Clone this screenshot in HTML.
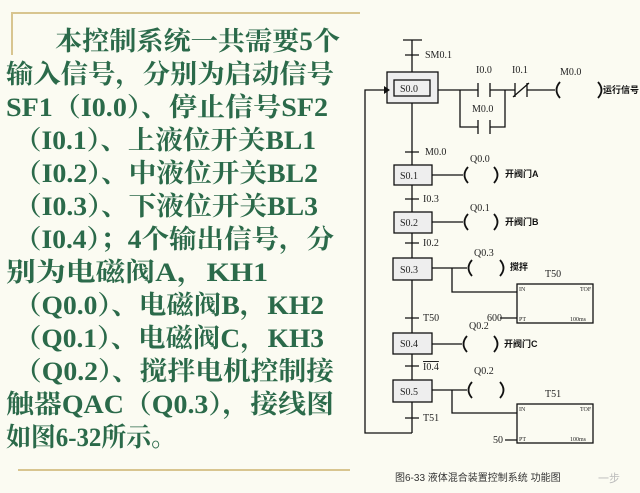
<!DOCTYPE html>
<html><head><meta charset="utf-8"><style>
html,body{margin:0;padding:0;background:#fbfbef;}
svg{display:block}
.t{font-family:"Liberation Serif","Noto Serif CJK SC",serif;font-weight:bold;font-size:26px;fill:#2b6a4a}
.s{font-family:"Liberation Serif","Noto Serif CJK SC",serif;font-size:10px;fill:#222}
.c{font-family:"Liberation Sans","Noto Sans CJK SC",sans-serif;font-size:9px;font-weight:bold;fill:#111}
.k{font-family:"Liberation Serif",serif;font-size:6px;fill:#222}
</style></head><body>
<svg width="640" height="493" viewBox="0 0 640 493" xmlns="http://www.w3.org/2000/svg">
<rect width="640" height="493" fill="#fbfbf2"/>
<path d="M12 55 V13 H360" stroke="#d8c590" stroke-width="2" fill="none"/>
<line x1="18" y1="470" x2="350" y2="470" stroke="#d8c590" stroke-width="2"/>
<g class="t">
<text x="55" y="50" textLength="285" lengthAdjust="spacingAndGlyphs">本控制系统一共需要5个</text>
<text x="6" y="83" textLength="328" lengthAdjust="spacingAndGlyphs">输入信号，分别为启动信号</text>
<text x="6" y="116" textLength="322" lengthAdjust="spacingAndGlyphs">SF1（I0.0）、停止信号SF2</text>
<text x="14" y="149" textLength="302" lengthAdjust="spacingAndGlyphs">（I0.1）、上液位开关BL1</text>
<text x="14" y="182" textLength="304" lengthAdjust="spacingAndGlyphs">（I0.2）、中液位开关BL2</text>
<text x="14" y="215" textLength="304" lengthAdjust="spacingAndGlyphs">（I0.3）、下液位开关BL3</text>
<text x="14" y="248" textLength="320" lengthAdjust="spacingAndGlyphs">（I0.4）；4个输出信号，分</text>
<text x="6" y="281" textLength="262" lengthAdjust="spacingAndGlyphs">别为电磁阀A，KH1</text>
<text x="14" y="314" textLength="310" lengthAdjust="spacingAndGlyphs">（Q0.0）、电磁阀B，KH2</text>
<text x="14" y="347" textLength="310" lengthAdjust="spacingAndGlyphs">（Q0.1）、电磁阀C，KH3</text>
<text x="14" y="380" textLength="320" lengthAdjust="spacingAndGlyphs">（Q0.2）、搅拌电机控制接</text>
<text x="6" y="413" textLength="328" lengthAdjust="spacingAndGlyphs">触器QAC（Q0.3），接线图</text>
<text x="6" y="446" textLength="170" lengthAdjust="spacingAndGlyphs">如图6-32所示。</text>
</g>
<g stroke="#111" stroke-width="1.3" fill="none">
<line x1="412" y1="40" x2="412" y2="433"/>
<line x1="403" y1="40" x2="422" y2="40"/>
<path d="M412 433 H365 V90 H384"/>
<rect x="387" y="72" width="51" height="31" fill="#eee"/>
<rect x="394" y="80" width="36" height="16"/>
<path d="M438 90 H478 M490 90 H515 M527 90 H555"/>
<path d="M478 83 V97 M490 83 V97 M515 83 V97 M527 83 V97 M513 97 L529 83"/>
<path d="M460 90 V127 H478 M490 127 H505 V90 M478 120 V134 M490 120 V134"/>
<path d="M405 55 H419 M405 152 H419 M405 199 H419 M405 243 H419 M405 318 H419 M405 366 H419 M405 418 H419"/>
<rect x="394" y="165" width="38" height="20" fill="#eee"/>
<rect x="394" y="212" width="38" height="21" fill="#eee"/>
<rect x="393" y="258" width="39" height="22" fill="#eee"/>
<rect x="393" y="333" width="39" height="21" fill="#eee"/>
<rect x="393" y="380" width="39" height="22" fill="#eee"/>
<path d="M432 175 H463 M432 222 H463 M432 268 H467 M432 344 H462 M432 390 H467"/>
<path d="M452 268 V292 H517 M452 390 V413 H517 M500 318 H517 M505 440 H517"/>
<rect x="517" y="284" width="76" height="39"/>
<rect x="517" y="404" width="76" height="39"/>
</g>
<g fill="none" stroke="#111" stroke-width="1.8">
<path d="M560 82 Q553 90 560 98 M598 82 Q605 90 598 98"/>
<path d="M468 167 Q461 175 468 183 M494 167 Q501 175 494 183"/>
<path d="M468 214 Q461 222 468 230 M494 214 Q501 222 494 230"/>
<path d="M472 260 Q465 268 472 276 M500 260 Q507 268 500 276"/>
<path d="M467 336 Q460 344 467 352 M494 336 Q501 344 494 352"/>
<path d="M472 382 Q465 390 472 398 M500 382 Q507 390 500 398"/>
</g>
<polygon points="384,86 390,90 384,94" fill="#111"/>
<g class="s">
<text x="425" y="58">SM0.1</text>
<text x="400" y="92">S0.0</text>
<text x="476" y="73">I0.0</text>
<text x="512" y="73">I0.1</text>
<text x="560" y="75">M0.0</text>
<text x="472" y="112">M0.0</text>
<text x="425" y="155">M0.0</text>
<text x="400" y="179">S0.1</text>
<text x="470" y="162">Q0.0</text>
<text x="423" y="202">I0.3</text>
<text x="400" y="226">S0.2</text>
<text x="470" y="211">Q0.1</text>
<text x="423" y="246">I0.2</text>
<text x="474" y="256">Q0.3</text>
<text x="400" y="273">S0.3</text>
<text x="545" y="277">T50</text>
<text x="487" y="321">600</text>
<text x="423" y="321">T50</text>
<text x="469" y="329">Q0.2</text>
<text x="400" y="347">S0.4</text>
<text x="423" y="370" text-decoration="overline">I0.4</text>
<text x="474" y="374">Q0.2</text>
<text x="400" y="395">S0.5</text>
<text x="545" y="397">T51</text>
<text x="493" y="443">50</text>
<text x="423" y="421">T51</text>
</g>
<g class="c">
<text x="603" y="93">运行信号</text>
<text x="505" y="177">开阀门A</text>
<text x="505" y="225">开阀门B</text>
<text x="510" y="270">搅拌</text>
<text x="504" y="347">开阀门C</text>
</g>
<g class="k">
<text x="519" y="291">IN</text><text x="580" y="291">TOF</text>
<text x="519" y="321">PT</text><text x="570" y="321">100ms</text>
<text x="519" y="411">IN</text><text x="580" y="411">TOF</text>
<text x="519" y="441">PT</text><text x="570" y="441">100ms</text>
</g>
<text x="395" y="481" font-family="Liberation Sans,Noto Sans CJK SC,sans-serif" font-size="10" fill="#333">图6-33   液体混合装置控制系统    功能图</text>
<text x="598" y="482" font-family="Noto Sans CJK SC,sans-serif" font-size="11" fill="#bbb">一步</text>
</svg>
</body></html>
